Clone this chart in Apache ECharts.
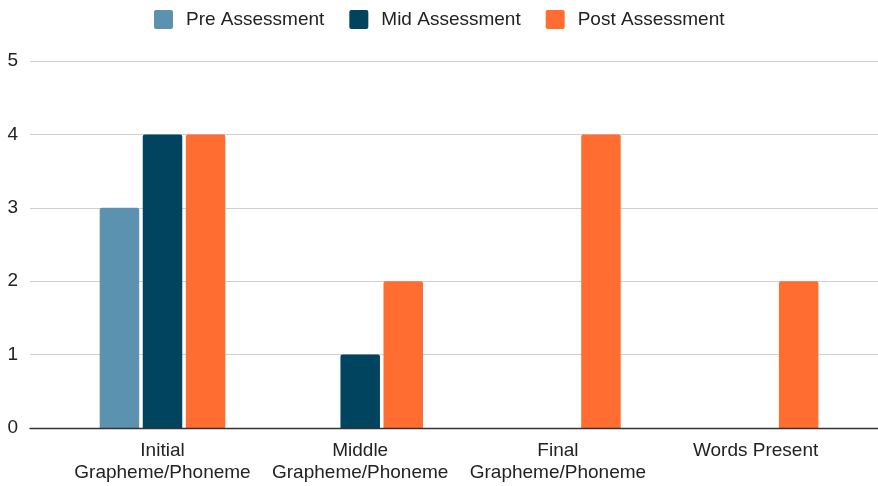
<!DOCTYPE html>
<html>
<head>
<meta charset="utf-8">
<script src="https://cdn.jsdelivr.net/npm/echarts@6/dist/echarts.min.js"></script>
<style>
html,body{margin:0;padding:0;background:#fff;}
#chart{width:878px;height:486px;}
</style>
</head>
<body>
<div id="chart"></div>
<script>
const categories = ["Initial\nGrapheme/Phoneme", "Middle\nGrapheme/Phoneme", "Final\nGrapheme/Phoneme", "Words Present"];
const seriesNames = ["Pre Assessment", "Mid Assessment", "Post Assessment"];
const preValues = [3, 0, 0, 0];
const midValues = [4, 1, 0, 0];
const postValues = [4, 2, 4, 2];
const yTicks = [0, 1, 2, 3, 4, 5];

const colors = ["#5b92af", "#01445f", "#ff6d31"];
const font = "Liberation Sans, Arial, sans-serif";

const chart = echarts.init(document.getElementById("chart"), null, {renderer: "canvas"});
const mk = (name, data, color) => ({
  name: name,
  type: "bar",
  xAxisIndex: 1,
  yAxisIndex: 1,
  data: data,
  barWidth: 39.5,
  barGap: "9%",
  itemStyle: {color: color, borderRadius: [2, 2, 0, 0]},
  z: 2
});
chart.setOption({
  animation: false,
  backgroundColor: "#fff",
  color: colors,
  legend: {
    data: seriesNames,
    top: 5,
    left: 149,
    itemWidth: 19,
    itemHeight: 19,
    itemGap: 25,
    icon: "path://M2,0 H17 Q19,0 19,2 V17 Q19,19 17,19 H2 Q0,19 0,17 V2 Q0,0 2,0 Z",
    textStyle: {fontFamily: font, fontSize: 19, color: "#222", padding: [0, 0, 0, 8]}
  },
  grid: [
    {left: 30, right: 0, top: 61, bottom: 58},
    {left: 63.65, right: 23.55, top: 61, bottom: 58}
  ],
  xAxis: [
    {
      type: "category", gridIndex: 0, data: categories,
      axisLine: {show: true, lineStyle: {color: "#333", width: 1.3}},
      axisTick: {show: false}, axisLabel: {show: false}, splitLine: {show: false},
      z: 10
    },
    {
      type: "category", gridIndex: 1, data: categories,
      axisLine: {show: false}, axisTick: {show: false},
      axisLabel: {fontFamily: font, fontSize: 19, color: "#222", lineHeight: 22, margin: 12, interval: 0}
    }
  ],
  yAxis: [
    {
      type: "value", gridIndex: 0, min: yTicks[0], max: yTicks[yTicks.length - 1], interval: 1,
      axisLine: {show: false}, axisTick: {show: false},
      axisLabel: {fontFamily: font, fontSize: 19, color: "#222", margin: 12},
      splitLine: {lineStyle: {color: "#cfcfcf", width: 1}}
    },
    {
      type: "value", gridIndex: 1, min: yTicks[0], max: yTicks[yTicks.length - 1], interval: 1,
      show: false, splitLine: {show: false}
    }
  ],
  series: [
    mk(seriesNames[0], preValues, colors[0]),
    mk(seriesNames[1], midValues, colors[1]),
    mk(seriesNames[2], postValues, colors[2])
  ]
});
</script>
</body>
</html>
